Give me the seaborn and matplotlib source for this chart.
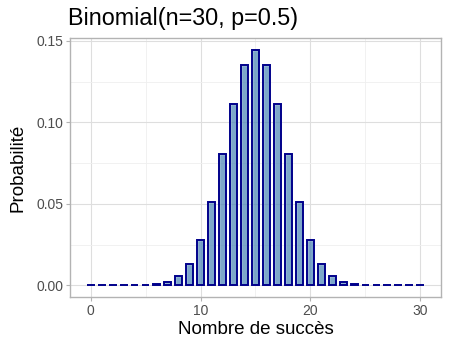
import matplotlib
matplotlib.use("Agg")
import matplotlib.pyplot as plt
import seaborn as sns
import pandas as pd
from matplotlib.ticker import MultipleLocator

successes = list(range(0, 31))
probabilities = [
    0.0000000009, 0.000000028, 0.0000004, 0.0000038, 0.000026, 0.00013,
    0.00055, 0.0019, 0.0055, 0.0133, 0.0280, 0.0509, 0.0806, 0.1115,
    0.1354, 0.1445, 0.1354, 0.1115, 0.0806, 0.0509, 0.0280, 0.0133,
    0.0055, 0.0019, 0.00055, 0.00013, 0.000026, 0.0000038, 0.0000004,
    0.000000028, 0.0000000009,
]
title = "Binomial(n=30, p=0.5)"
xlabel = "Nombre de succès"
ylabel = "Probabilité"

df = pd.DataFrame({"k": successes, "p": probabilities})

sns.set_style("white")
plt.rcParams["font.family"] = ["Liberation Sans", "DejaVu Sans"]

fig = plt.figure(figsize=(4.5, 3.5), dpi=100)
ax = fig.add_axes([70 / 450, 1 - 297 / 350, 371 / 450, 259 / 350])

ax.bar(df["k"], df["p"], width=0.7, color="#4682B4", alpha=0.7, zorder=3)
ax.bar(df["k"], df["p"], width=0.7, fill=False, edgecolor="#00008B",
       linewidth=1.4, zorder=4)

ax.set_xlim(-1.885, 31.885)
ax.set_ylim(-0.0072, 0.1517)
ax.xaxis.set_major_locator(MultipleLocator(10))
ax.xaxis.set_minor_locator(MultipleLocator(5))
ax.yaxis.set_major_locator(MultipleLocator(0.05))
ax.yaxis.set_minor_locator(MultipleLocator(0.025))
ax.set_yticks([0, 0.05, 0.10, 0.15])
ax.set_yticklabels(["0.00", "0.05", "0.10", "0.15"])

ax.grid(which="major", color="#DEDEDE", linewidth=0.8, zorder=0)
ax.grid(which="minor", color="#EFEFEF", linewidth=0.6, zorder=0)
ax.set_axisbelow(True)
for s in ax.spines.values():
    s.set_color("#B3B3B3")
    s.set_linewidth(1.0)

ax.tick_params(axis="both", which="major", length=3, width=0.8, color="#B3B3B3",
               labelcolor="#4D4D4D", labelsize=10, pad=2, bottom=True, left=True)
ax.tick_params(axis="both", which="minor", length=0)

ax.set_xlabel(xlabel, fontsize=13.5, color="black", labelpad=2)
ax.set_ylabel(ylabel, fontsize=13.5, color="black", labelpad=7)
fig.text(68 / 450, 1 - 18 / 350, title, fontsize=16.8, color="black",
         ha="left", va="center")

fig.savefig("out.png", dpi=100)
